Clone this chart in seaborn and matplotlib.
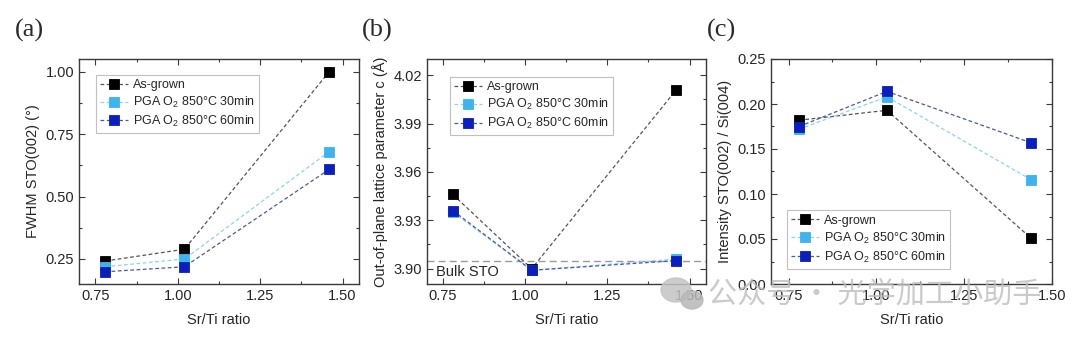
import matplotlib
matplotlib.use("Agg")
import matplotlib.pyplot as plt
from matplotlib.ticker import MultipleLocator
from matplotlib.patches import Ellipse
import seaborn as sns
import pandas as pd

# ---------------- data ----------------
series_names = ["As-grown", "PGA O$_2$ 850°C 30min", "PGA O$_2$ 850°C 60min"]

x_ab = [0.78, 1.02, 1.46]
x_c = [0.78, 1.03, 1.44]

fwhm_asgrown = [0.242, 0.289, 1.00]
fwhm_30min = [0.219, 0.250, 0.680]
fwhm_60min = [0.199, 0.219, 0.609]

latt_asgrown = [3.946, 3.900, 4.011]
latt_30min = [3.935, 3.899, 3.906]
latt_60min = [3.936, 3.899, 3.905]
bulk_sto = 3.905

int_asgrown = [0.182, 0.193, 0.051]
int_30min = [0.172, 0.208, 0.116]
int_60min = [0.175, 0.214, 0.157]

panel_labels = ["(a)", "(b)", "(c)"]
ylabels = ["FWHM STO(002) (°)", "Out-of-plane lattice parameter c (Å)",
           "Intensity STO(002) / Si(004)"]
xlabel = "Sr/Ti ratio"
watermark = "公众号 · 光学加工小助手"

# ---------------- style ----------------
sns.set_style("ticks")
plt.rcParams["font.family"] = ["Liberation Sans", "DejaVu Sans"]
plt.rcParams["mathtext.fontset"] = "custom"
plt.rcParams["mathtext.rm"] = "Liberation Sans"
plt.rcParams["mathtext.it"] = "Liberation Sans:italic"

marker_colors = ["#000000", "#3cb4f0", "#0b1fbe"]
line_colors = ["#555555", "#8dd3f3", "#4a5aa0"]
text_col = "#262626"
spine_col = "#3a3a3a"

fig = plt.figure(figsize=(10.8, 3.37), dpi=100)
W, H = 1080, 337
boxes = [(79, 359), (426.5, 706), (771, 1052)]
top_px, bot_px = 59, 284
axes = []
for l, r in boxes:
    axes.append(fig.add_axes([l / W, 1 - bot_px / H, (r - l) / W, (bot_px - top_px) / H]))

datasets = [
    (x_ab, [fwhm_asgrown, fwhm_30min, fwhm_60min]),
    (x_ab, [latt_asgrown, latt_30min, latt_60min]),
    (x_c, [int_asgrown, int_30min, int_60min]),
]

for ax, (xs, ys_list) in zip(axes, datasets):
    frames = []
    for name, ys in zip(series_names, ys_list):
        frames.append(pd.DataFrame({"x": xs, "y": ys, "series": name}))
    df = pd.concat(frames, ignore_index=True)
    for i, name in enumerate(series_names):
        sub = df[df["series"] == name]
        sns.lineplot(data=sub, x="x", y="y", ax=ax, label=name,
                     color=line_colors[i], linewidth=0.9, linestyle=(0, (3, 2)),
                     marker="s", markersize=7.2,
                     markerfacecolor=marker_colors[i],
                     markeredgecolor=marker_colors[i], markeredgewidth=0.6,
                     zorder=3 + i, sort=False)

# limits and ticks
axes[0].set_xlim(0.70, 1.55)
axes[0].set_ylim(0.15, 1.05)
axes[0].yaxis.set_major_locator(MultipleLocator(0.25))
axes[0].yaxis.set_minor_locator(MultipleLocator(0.125))

axes[1].set_xlim(0.70, 1.55)
axes[1].set_ylim(3.8905, 4.030)
axes[1].yaxis.set_major_locator(MultipleLocator(0.03))
axes[1].yaxis.set_minor_locator(MultipleLocator(0.015))
axes[1].axhline(bulk_sto, color="#9a9a9a", linewidth=1.0, linestyle=(0, (5, 3)), zorder=2)
axes[1].text(0.035, 0.055, "Bulk STO", transform=axes[1].transAxes,
             fontsize=10.5, color=text_col, va="center", ha="left")

axes[2].set_xlim(0.70, 1.50)
axes[2].set_ylim(0.0, 0.25)
axes[2].yaxis.set_major_locator(MultipleLocator(0.05))
axes[2].yaxis.set_minor_locator(MultipleLocator(0.025))

for ax, yl in zip(axes, ylabels):
    ax.xaxis.set_major_locator(MultipleLocator(0.25))
    ax.xaxis.set_minor_locator(MultipleLocator(0.125))
    ax.xaxis.set_major_formatter(matplotlib.ticker.FormatStrFormatter("%.2f"))
    ax.yaxis.set_major_formatter(matplotlib.ticker.FormatStrFormatter("%.2f"))
    ax.tick_params(which="both", direction="in", top=True, right=True,
                   colors=spine_col, labelcolor=text_col, labelsize=10.5)
    ax.tick_params(which="major", length=4, width=0.8)
    ax.tick_params(which="minor", length=2.5, width=0.8)
    for s in ax.spines.values():
        s.set_visible(True)
        s.set_color(spine_col)
        s.set_linewidth(1.0)
    ax.set_xlabel(xlabel, fontsize=10.5, color=text_col, labelpad=7)
    ax.set_ylabel(yl, fontsize=10.5, color=text_col, labelpad=4)

leg_kw = dict(fontsize=9, frameon=True, fancybox=False, framealpha=1,
              edgecolor="#c0c0c0", borderpad=0.35, labelspacing=0.3,
              handlelength=2.2, handletextpad=0.4, borderaxespad=0.0)
for t in [axes[0].legend(loc="upper left", bbox_to_anchor=(0.06, 0.93), **leg_kw),
          axes[1].legend(loc="upper left", bbox_to_anchor=(0.084, 0.92), **leg_kw),
          axes[2].legend(loc="lower left", bbox_to_anchor=(0.057, 0.067), **leg_kw)]:
    t.get_frame().set_linewidth(0.8)
    for txt in t.get_texts():
        txt.set_color(text_col)

# panel labels
for lab, xp in zip(panel_labels, [15, 362, 707]):
    fig.text(xp / W, 1 - 30 / H, lab, family=["Liberation Serif", "DejaVu Serif"],
             fontsize=19, color="#2a2a2a", ha="left", va="center")

# watermark
fig.patches.append(Ellipse((676 / W, 1 - 290 / H), 30 / W, 24 / H,
                           transform=fig.transFigure, color="#c4c4c4", alpha=0.85, zorder=5))
fig.patches.append(Ellipse((692 / W, 1 - 300 / H), 22 / W, 18 / H,
                           transform=fig.transFigure, color="#b8b8b8", alpha=0.85, zorder=5))
fig.text(708 / W, 1 - 295 / H, watermark,
         family=["Noto Sans CJK SC", "DejaVu Sans"], fontsize=21,
         color="#bdbdbd", alpha=0.8, ha="left", va="center", zorder=6)

fig.savefig("out.png", dpi=100)
